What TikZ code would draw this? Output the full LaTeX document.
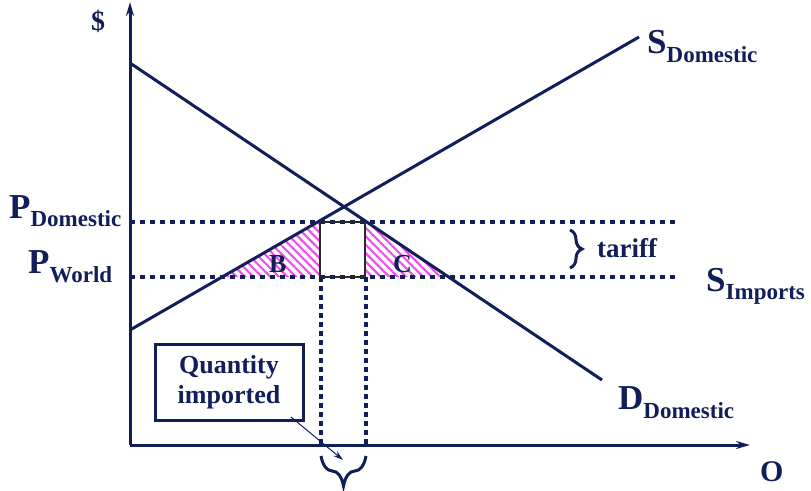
\documentclass[tikz,border=0pt]{standalone}
\usepackage{fontspec}
\setmainfont{Liberation Serif}
\usetikzlibrary{patterns.meta,decorations.pathreplacing,arrows.meta}
\definecolor{navy}{RGB}{18,30,90}
\definecolor{hatchc}{RGB}{238,80,238}
\definecolor{boxc}{RGB}{40,40,40}
\newcommand\mylbl[3][8pt]{\fontsize{35}{35}\selectfont #2\raisebox{-#1}{\fontsize{23}{23}\selectfont #3}}
\begin{document}
\begin{tikzpicture}[x=1pt,y=-1pt,
  axis/.style={navy,line width=3pt,-{Stealth[length=14pt,width=8pt]}},
  curve/.style={navy,line width=3pt},
  dotline/.style={navy,line width=4.5pt,dash pattern=on 5pt off 5pt},
  vdot/.style={navy,line width=4pt,dash pattern=on 4.5pt off 4.5pt},
  lbl/.style={navy,font=\bfseries,anchor=base west,inner sep=0pt},
  hatch/.style={pattern={Lines[angle=-45,distance=6pt,line width=2.2pt]},pattern color=hatchc},
  bracestyle/.style={navy,line width=3pt,decorate}]
\useasboundingbox (0,0) rectangle (811,490);
% coordinates
\coordinate (O) at (130,445);
\coordinate (ytop) at (130,2);
\coordinate (xend) at (750,445);
\coordinate (d1) at (130,63);
\coordinate (d2) at (602,380);
\coordinate (s1) at (130,330);
\coordinate (s2) at (639,37);
\coordinate (pd1) at (130,222);
\coordinate (pd2) at (676,222);
\coordinate (pw1) at (130,277);
\coordinate (pw2) at (676,277);
\coordinate (bl) at (222,277);
\coordinate (rtl) at (320,222);
\coordinate (rbl) at (320,277);
\coordinate (rtr) at (365,222);
\coordinate (rbr) at (365,277);
\coordinate (cr) at (449,277);
\coordinate (v1t) at (321,277);
\coordinate (v1b) at (321,445);
\coordinate (v2t) at (366,277);
\coordinate (v2b) at (366,445);
% hatches
\fill[hatch] (bl) -- (rtl) -- (rbl) -- cycle;
\fill[hatch] (rtr) -- (cr) -- (rbr) -- cycle;
% dotted lines
\draw[dotline] (pd1) -- (pd2);
\draw[dotline] (pw1) -- (pw2);
\draw[vdot] (v1t) -- (v1b);
\draw[vdot] (v2t) -- (v2b);
% axes
\draw[axis] (O) -- (ytop);
\draw[axis] (O) -- (xend);
% curves
\draw[curve] (d1) -- (d2);
\draw[curve] (s1) -- (s2);
% rectangle
\draw[boxc,line width=2.5pt] (rtl) rectangle (rbr);
% labels
\node[lbl] (pd) at (9,218) {\mylbl{P}{Domestic}};
\node[lbl] (pw) at (28,273) {\mylbl[9pt]{P}{World}};
\node[lbl] (sd) at (647,53) {\mylbl[9pt]{S}{Domestic}};
\node[lbl] (si) at (706,291) {\mylbl{S}{Imports}};
\node[lbl] (dd) at (618,409) {\mylbl[9pt]{D}{Domestic}};
\node[lbl,font=\bfseries\fontsize{28}{28}\selectfont] (dol) at (91,30) {\$};
\node[lbl,font=\bfseries\fontsize{30}{30}\selectfont] (q) at (760,481) {O};
\node[lbl,font=\bfseries\fontsize{26}{26}\selectfont] (b) at (269,272) {B};
\node[lbl,font=\bfseries\fontsize{26}{26}\selectfont] (c) at (393,272) {C};
\node[lbl,font=\bfseries\fontsize{27}{27}\selectfont] (tar) at (597,257) {tariff};
% tariff brace
\coordinate (tb1) at (570,230);
\coordinate (tb2) at (570,268);
\draw[bracestyle,line width=3pt,decoration={brace,amplitude=12pt}] (tb1) -- (tb2);
% quantity box
\node[draw=navy,line width=3pt,minimum width=148pt,minimum height=76pt,inner sep=0pt,
  align=center,text=navy,font=\bfseries\fontsize{26}{30}\selectfont] (qbox) at (229,382)
  {Quantity\\imported};
\coordinate (qa) at (291,417);
\coordinate (qb) at (343,460);
\draw[navy,line width=1pt,-{Stealth[length=10pt,width=6pt]}] (qa) -- (qb);
% bottom brace
\coordinate (bb1) at (321,456);
\coordinate (bb2) at (366,456);
\draw[bracestyle,decoration={brace,mirror,amplitude=30pt}] (bb1) -- (bb2);
\end{tikzpicture}
\end{document}
